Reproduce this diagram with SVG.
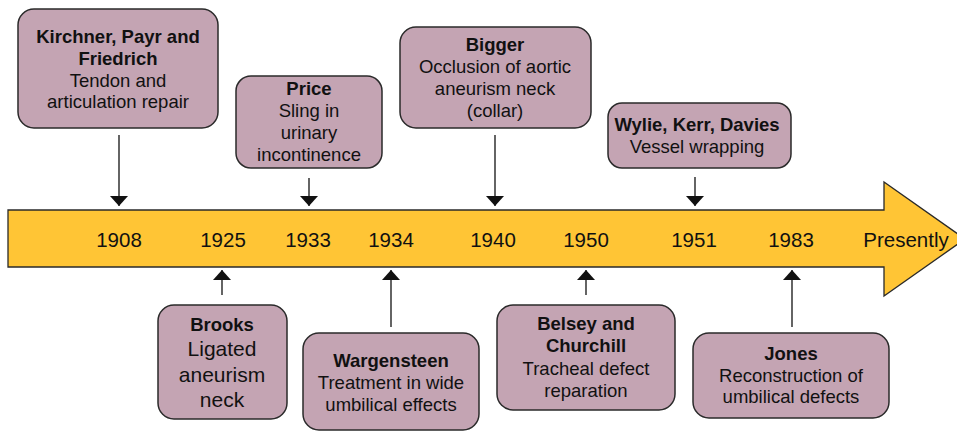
<svg xmlns="http://www.w3.org/2000/svg" width="957" height="432" viewBox="0 0 957 432">
<style>
.box{fill:#C4A4B3;stroke:#2a2a2a;stroke-width:1.5}
.t{font-family:"Liberation Sans",Arial,sans-serif;font-size:18.5px;fill:#111;text-anchor:middle}
.b{font-weight:bold}
.big{font-size:21px}
.yr{font-family:"Liberation Sans",Arial,sans-serif;font-size:20.5px;fill:#111;text-anchor:middle}
.ln{stroke:#111;stroke-width:1.3;fill:none}
</style>
<defs>
<marker id="ah" viewBox="0 0 10 18" refX="10" refY="9" markerWidth="10" markerHeight="18" markerUnits="userSpaceOnUse" orient="auto">
<path d="M0,0 L10,9 L0,18 Z" fill="#111"/>
</marker>
</defs>
<g id="timeline">
<path d="M8,210 H884 V182 L965,239 L884,296 V267 H8 Z" fill="#FFC535" stroke="#2a2a2a" stroke-width="1.3"/>
<text class="yr" x="119" y="247">1908</text>
<text class="yr" x="223" y="247">1925</text>
<text class="yr" x="308" y="247">1933</text>
<text class="yr" x="391" y="247">1934</text>
<text class="yr" x="493" y="247">1940</text>
<text class="yr" x="586" y="247">1950</text>
<text class="yr" x="694" y="247">1951</text>
<text class="yr" x="791" y="247">1983</text>
<text class="yr" x="906" y="247">Presently</text>
</g>
<g id="connectors">
<line class="ln" x1="119" y1="135" x2="119" y2="206" marker-end="url(#ah)"/>
<line class="ln" x1="309" y1="178" x2="309" y2="206" marker-end="url(#ah)"/>
<line class="ln" x1="495" y1="135" x2="495" y2="206" marker-end="url(#ah)"/>
<line class="ln" x1="695" y1="177" x2="695" y2="206" marker-end="url(#ah)"/>
<line class="ln" x1="222" y1="295" x2="222" y2="270" marker-end="url(#ah)"/>
<line class="ln" x1="391" y1="327" x2="391" y2="270" marker-end="url(#ah)"/>
<line class="ln" x1="586" y1="295" x2="586" y2="270" marker-end="url(#ah)"/>
<line class="ln" x1="792" y1="327" x2="792" y2="270" marker-end="url(#ah)"/>
</g>
<g id="kirchner">
<rect class="box" x="18" y="9" width="200" height="119" rx="16"/>
<text class="t b" x="118" y="43">Kirchner, Payr and</text>
<text class="t b" x="118" y="65">Friedrich</text>
<text class="t" x="118" y="87">Tendon and</text>
<text class="t" x="118" y="108">articulation repair</text>
</g>
<g id="price">
<rect class="box" x="236" y="76" width="146" height="92" rx="15"/>
<text class="t b" x="309" y="95">Price</text>
<text class="t" x="309" y="117">Sling in</text>
<text class="t" x="309" y="139">urinary</text>
<text class="t" x="309" y="161">incontinence</text>
</g>
<g id="bigger">
<rect class="box" x="400" y="27" width="191" height="101" rx="16"/>
<text class="t b" x="495" y="51">Bigger</text>
<text class="t" x="495" y="73">Occlusion of aortic</text>
<text class="t" x="495" y="95">aneurism neck</text>
<text class="t" x="495" y="117">(collar)</text>
</g>
<g id="wylie">
<rect class="box" x="608" y="103" width="183" height="65" rx="14"/>
<text class="t b" x="697" y="131">Wylie, Kerr, Davies</text>
<text class="t" x="697" y="153">Vessel wrapping</text>
</g>
<g id="brooks">
<rect class="box" x="158" y="305" width="129" height="114" rx="16"/>
<text class="t b" x="222" y="331">Brooks</text>
<text class="t big" x="222" y="356">Ligated</text>
<text class="t big" x="222" y="382">aneurism</text>
<text class="t big" x="222" y="407">neck</text>
</g>
<g id="wargensteen">
<rect class="box" x="303" y="333" width="176" height="97" rx="16"/>
<text class="t b" x="391" y="367">Wargensteen</text>
<text class="t" x="391" y="389">Treatment in wide</text>
<text class="t" x="391" y="411">umbilical effects</text>
</g>
<g id="belsey">
<rect class="box" x="497" y="305" width="178" height="105" rx="16"/>
<text class="t b" x="586" y="330">Belsey and</text>
<text class="t b" x="586" y="352">Churchill</text>
<text class="t" x="586" y="375">Tracheal defect</text>
<text class="t" x="586" y="397">reparation</text>
</g>
<g id="jones">
<rect class="box" x="693" y="333" width="196" height="85" rx="16"/>
<text class="t b" x="791" y="360">Jones</text>
<text class="t" x="791" y="382">Reconstruction of</text>
<text class="t" x="791" y="403">umbilical defects</text>
</g>
</svg>
